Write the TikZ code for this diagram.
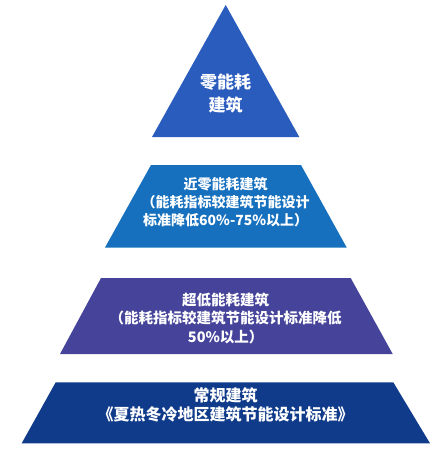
\documentclass[tikz,border=0pt]{standalone}
\usepackage{fontspec}
\newfontfamily\cjk{Noto Sans CJK SC}
\definecolor{cTop}{RGB}{42,92,190}
\definecolor{cTwo}{RGB}{22,112,190}
\definecolor{cThree}{RGB}{70,68,154}
\definecolor{cFour}{RGB}{16,59,138}
\tikzset{
  lbl/.style={text=white, align=center, inner sep=0pt, font=\cjk\bfseries},
}
\begin{document}
\begin{tikzpicture}[x=1pt,y=-1pt]
\useasboundingbox (0,0) rectangle (447,456);
\fill[cTop] (225.7,5) -- (299.3,137) -- (152,137) -- cycle;
\fill[cTwo] (151,165) -- (301,165) -- (346.7,247.5) -- (105,247.5) -- cycle;
\fill[cThree] (101,278) -- (350.7,278) -- (392.7,354) -- (60,354) -- cycle;
\fill[cFour] (55.7,382.3) -- (393.3,382.3) -- (430,443.3) -- (21.7,443.3) -- cycle;
\node[lbl, font=\cjk\bfseries\fontsize{17}{23}\selectfont] (t1) at (225.7,93.5) {零能耗\\建筑};
\node[lbl, font=\cjk\bfseries\fontsize{14}{18}\selectfont] (t2) at (225.7,202) {近零能耗建筑\\（能耗指标较建筑节能设计\\标准降低60\%-75\%以上）};
\node[lbl, font=\cjk\bfseries\fontsize{14.5}{18.5}\selectfont] (t3) at (225.7,318) {超低能耗建筑\\（能耗指标较建筑节能设计标准降低\\50\%以上）};
\node[lbl, font=\cjk\bfseries\fontsize{16}{18.5}\selectfont] (t4) at (225.7,405) {常规建筑\\《夏热冬冷地区建筑节能设计标准》};
\end{tikzpicture}
\end{document}
